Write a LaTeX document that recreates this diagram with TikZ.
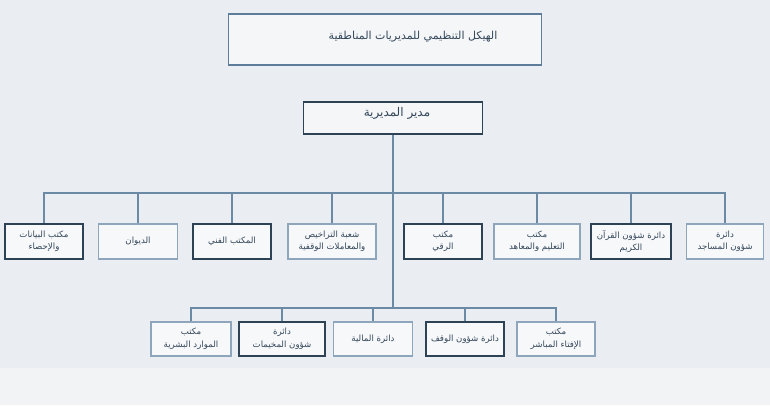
\documentclass[tikz,border=0pt]{standalone}
\usepackage{fontspec}
\newfontfamily\arabicfont[Script=Arabic]{DejaVu Sans}
\TeXXeTstate=1
\definecolor{bgtop}{HTML}{EAEEF2}
\definecolor{bgbot}{HTML}{F1F3F5}
\definecolor{darkb}{HTML}{2E4256}
\definecolor{lightb}{HTML}{8EA6BC}
\definecolor{titleb}{HTML}{5E7D9A}
\definecolor{linec}{HTML}{6A8AA6}
\definecolor{txt}{HTML}{34475A}
\newcommand{\ar}[1]{\beginR #1\endR}
\tikzset{
  basebox/.style={rectangle, fill=white!60!bgtop, line width=1.9pt, inner sep=1pt, align=center,
     font=\arabicfont\fontsize{8.6}{12.5}\selectfont, text=txt},
  darkbox/.style={basebox, draw=darkb},
  lightbox/.style={basebox, draw=lightb},
  conn/.style={draw=linec, line width=1.6pt}
}
\begin{document}
\begin{tikzpicture}[x=1pt,y=-1pt]
\useasboundingbox (0,0) rectangle (770,405);
\fill[bgtop] (0,0) rectangle (770,368);
\fill[bgbot] (0,368) rectangle (770,405);
% title
\node[rectangle, draw=titleb, line width=1.9pt, fill=white!50!bgtop, minimum width=313pt, minimum height=51pt] (title) at (385,39.5) {};
\node[font=\arabicfont\fontsize{11}{13}\selectfont, text=txt] (titletext) at (413,37) {\ar{الهيكل التنظيمي للمديريات المناطقية}};
% director
\node[rectangle, draw=darkb, line width=1.9pt, fill=white!50!bgtop, minimum width=179pt, minimum height=32pt] (dir) at (393,118) {};
\node[font=\arabicfont\fontsize{12}{14}\selectfont, text=txt] (dirtext) at (397,113) {\ar{مدير المديرية}};
% row 1
\node[darkbox, minimum width=78pt, minimum height=35pt] (a1) at (44,241.5) {\ar{مكتب البيانات}\\\ar{والإحصاء}};
\node[lightbox, minimum width=79pt, minimum height=35pt] (a2) at (138,241.5) {\ar{الديوان}};
\node[darkbox, minimum width=78pt, minimum height=35pt] (a3) at (232,241.5) {\ar{المكتب الفني}};
\node[lightbox, minimum width=88pt, minimum height=35pt] (a4) at (332,241.5) {\ar{شعبة التراخيص}\\\ar{والمعاملات الوقفية}};
\node[darkbox, minimum width=78pt, minimum height=35pt] (a5) at (443,241.5) {\ar{مكتب}\\\ar{الرقي}};
\node[lightbox, minimum width=86pt, minimum height=35pt] (a6) at (537,241.5) {\ar{مكتب}\\\ar{التعليم والمعاهد}};
\node[darkbox, minimum width=80pt, minimum height=35pt] (a7) at (631,241.5) {\ar{دائرة شؤون القرآن}\\\ar{الكريم}};
\node[lightbox, minimum width=77pt, minimum height=35pt] (a8) at (725,241.5) {\ar{دائرة}\\\ar{شؤون المساجد}};
% row 2
\node[lightbox, minimum width=80pt, minimum height=34pt] (b1) at (191,339) {\ar{مكتب}\\\ar{الموارد البشرية}};
\node[darkbox, minimum width=86pt, minimum height=34pt] (b2) at (282,339) {\ar{دائرة}\\\ar{شؤون المخيمات}};
\node[lightbox, minimum width=79pt, minimum height=34pt] (b3) at (373,339) {\ar{دائرة المالية}};
\node[darkbox, minimum width=78pt, minimum height=34pt] (b4) at (465,339) {\ar{دائرة شؤون الوقف}};
\node[lightbox, minimum width=78pt, minimum height=34pt] (b5) at (556,339) {\ar{مكتب}\\\ar{الإفتاء المباشر}};
% connectors
\coordinate (bus1) at (393,193);
\coordinate (bus2) at (393,308);
\draw[conn] (dir.south) -- (bus2);
\draw[conn] (a1.north) |- (bus1) -| (a8.north);
\foreach \n in {a2,a3,a4,a5,a6,a7} \draw[conn] (\n.north) -- (\n.north |- bus1);
\draw[conn] (b1.north) |- (bus2) -| (b5.north);
\foreach \n in {b2,b3,b4} \draw[conn] (\n.north) -- (\n.north |- bus2);
\end{tikzpicture}
\end{document}
